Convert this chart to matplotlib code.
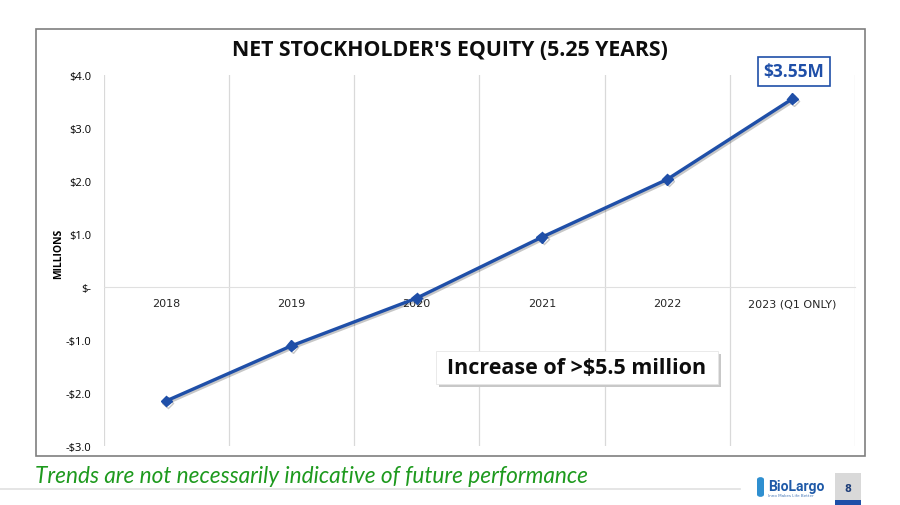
import matplotlib.pyplot as plt
import matplotlib.patheffects as pe
from matplotlib.patches import Rectangle, FancyBboxPatch
from matplotlib.ticker import FuncFormatter

years = ["2018", "2019", "2020", "2021", "2022", "2023 (Q1 ONLY)"]
equity = [-2.15, -1.11, -0.21, 0.94, 2.03, 3.55]
yticks = [-3, -2, -1, 0, 1, 2, 3, 4]

W, H = 900, 506
fig = plt.figure(figsize=(9, 5.06), dpi=100)

def fx(px):
    return px / W

def fy(py):
    return 1 - py / H

# chart frame
fig.patches.append(Rectangle((fx(36), fy(457)), fx(865) - fx(36), fy(30) - fy(457),
                             transform=fig.transFigure, fill=False, edgecolor="#7f7f7f", lw=1.2))

ax = fig.add_axes([fx(103.5), fy(447), fx(855) - fx(103.5), fy(76) - fy(447)])
x = list(range(len(years)))
ax.plot(x, equity, color="#1f4fa8", lw=2.4, marker="D", ms=5.5, zorder=5,
        path_effects=[pe.SimpleLineShadow(offset=(1.2, -1.2), alpha=0.22), pe.Normal()])

ax.set_xlim(-0.5, len(years) - 0.5)
ax.set_ylim(-3, 4)
ax.set_yticks(yticks)
ax.yaxis.set_major_formatter(FuncFormatter(
    lambda v, p: "$-" if v == 0 else ("-$%.1f" % abs(v) if v < 0 else "$%.1f" % v)))
ax.set_xticks(x)
ax.set_xticklabels(years)
ax.set_xticks([i - 0.5 for i in range(len(years) + 1)], minor=True)
ax.grid(True, which="minor", axis="x", color="#d9d9d9", lw=0.9)
ax.tick_params(axis="both", which="both", length=0)
ax.tick_params(axis="y", labelsize=8, pad=9)
ax.tick_params(axis="x", labelsize=8, pad=8, colors="#262626")
for lab in ax.get_xticklabels():
    lab.set_fontfamily("Open Sans")
for lab in ax.get_yticklabels():
    lab.set_fontfamily("Open Sans")
for s in ["top", "right", "left"]:
    ax.spines[s].set_visible(False)
ax.spines["bottom"].set_position(("data", 0))
ax.spines["bottom"].set_color("#e0e0e0")
ax.set_ylabel("MILLIONS", fontsize=7.5, fontweight="bold", labelpad=4, family="Open Sans")
ax.yaxis.set_label_coords(-0.053, 0.52)

fig.text(0.5, fy(50), "NET STOCKHOLDER'S EQUITY (5.25 YEARS)", ha="center", va="center",
         fontsize=15.3, fontweight="bold", family="Open Sans", color="#0d0d0d")

# value callout
fig.text(fx(794), fy(72.5), "$3.55M", ha="center", va="center", fontsize=12.5,
         fontweight="bold", color="#1f4fa8", family="Open Sans",
         bbox=dict(boxstyle="square,pad=0.3", fc="white", ec="#1f4fa8", lw=1.2))

# increase callout with shadow
fig.patches.append(Rectangle((fx(439), fy(388)), fx(282), fy(352) - fy(385),
                             transform=fig.transFigure, fc="#c8c8c8", ec="none", zorder=8))
fig.patches.append(Rectangle((fx(436), fy(385)), fx(282), fy(352) - fy(385),
                             transform=fig.transFigure, fc="white", ec="#e6e6e6", lw=0.6, zorder=9))
fig.text(fx(577), fy(368.5), "Increase of >$5.5 million", ha="center", va="center",
         fontsize=15.5, fontweight="bold", family="Open Sans", color="#0d0d0d", zorder=10)

# footer
fig.text(fx(35), fy(477), "Trends are not necessarily indicative of future performance",
         ha="left", va="center", fontsize=16.3, style="italic",
         color="#1e9a1e", family="Lato")
fig.lines.append(plt.Line2D([0, fx(740)], [fy(490), fy(490)], transform=fig.transFigure,
                            color="#e0e0e0", lw=1.2))
fig.text(fx(768), fy(487), "BioLargo", ha="left", va="center", fontsize=10,
         fontweight="bold", color="#1f5aa8", family="Roboto")
fig.text(fx(768), fy(496), "Inno Makes Life Better", ha="left", va="center", fontsize=3,
         color="#4a7ab8")
fig.patches.append(FancyBboxPatch((fx(757), fy(498)), fx(7), fy(478) - fy(498),
                                  boxstyle="round,pad=0,rounding_size=0.005",
                                  transform=fig.transFigure, fc="#2f8fd0", ec="none"))
fig.patches.append(Rectangle((fx(835), fy(506)), fx(26), fy(474) - fy(506),
                             transform=fig.transFigure, fc="#d9d9d9", ec="none"))
fig.patches.append(Rectangle((fx(835), fy(506)), fx(26), fy(501) - fy(506),
                             transform=fig.transFigure, fc="#1f4fa8", ec="none"))
fig.text(fx(848), fy(489), "8", ha="center", va="center", fontsize=7,
         fontweight="bold", color="#1f3f7a")

fig.savefig("out.png", dpi=100)
